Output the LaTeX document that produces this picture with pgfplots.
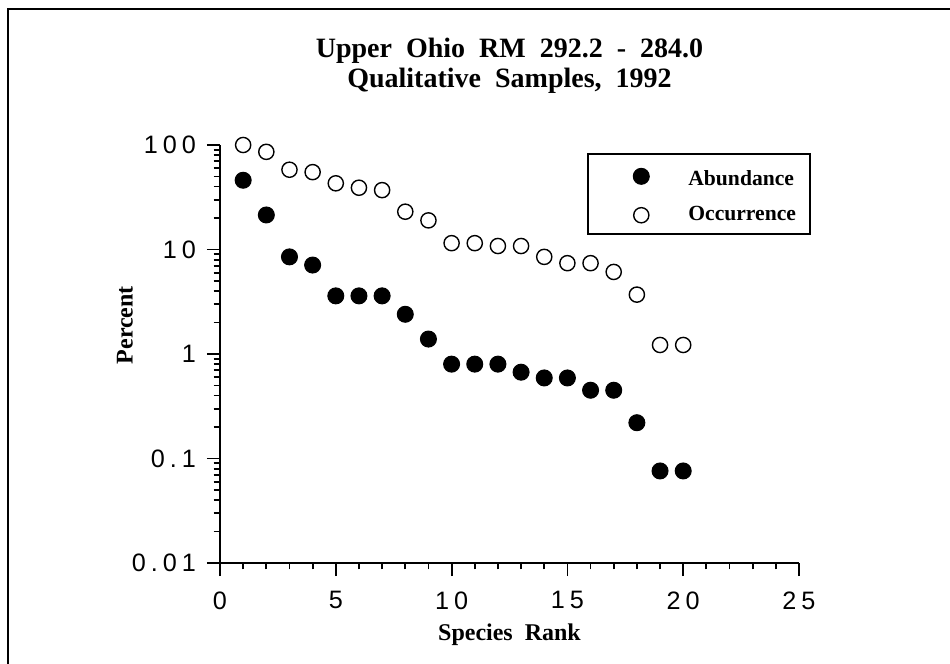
\documentclass[border=0pt]{standalone}
\usepackage{fontspec}
\setmainfont{Liberation Serif}
\newfontfamily\tickfont[LetterSpace=20]{Liberation Sans}
\usepackage{pgfplots}
\pgfplotsset{compat=1.18}

\begin{document}
\begin{tikzpicture}
\path[use as bounding box] (-110bp,-50.5bp) rectangle (365bp,281.5bp);
\draw[line width=1.1bp] (-106bp,-50.5bp) -- (-106bp,277bp) -- (365bp,277bp);
\begin{axis}[
  at={(0,0)}, anchor=south west,
  scale only axis, width=289.5bp, height=209bp,
  ymode=log,
  xmin=0, xmax=25, ymin=0.01, ymax=100,
  axis x line=bottom, axis y line=left,
  axis line style={-, line width=1.1bp},
  tick align=outside,
  major tick length=6.5bp, minor tick length=3.2bp,
  every tick/.style={black, line width=0.9bp},
  xtick={0,5,10,15,20,25},
  xticklabels={0,5,10,15,20,25},
  minor x tick num=4,
  ytick={0.01,0.1,1,10,100},
  yticklabels={0.01,0.1,1,10,100},
  xticklabel style={font=\tickfont\fontsize{12.6bp}{14bp}\selectfont, yshift=-4.3bp},
  yticklabel style={font=\tickfont\fontsize{12.6bp}{14bp}\selectfont, xshift=-2bp},
  title={Upper\ \ Ohio\ \ RM\ \ 292.2\ \ -\ \ 284.0\\[0bp]Qualitative\ \ Samples,\ \ 1992},
  title style={font=\bfseries\fontsize{14bp}{15bp}\selectfont, align=center,
    at={(axis description cs:0.5,1)}, anchor=base, yshift=23bp},
  xlabel={Species\ \ Rank},
  xlabel style={font=\bfseries\fontsize{12bp}{14bp}\selectfont,
    at={(axis description cs:0.5,0)}, anchor=base, yshift=-38.5bp},
  ylabel={Percent},
  ylabel style={font=\bfseries\fontsize{12bp}{14bp}\selectfont,
    at={(axis description cs:0,0.569)}, anchor=center, yshift=47.5bp},
  legend style={at={(axis description cs:0.634,0.981)}, anchor=north west,
    draw=black, line width=1.1bp, inner xsep=5bp, inner ysep=3bp,
    font=\bfseries\fontsize{10.8bp}{12bp}\selectfont,
    column sep=0bp, row sep=5bp},
  legend cell align=left,
  legend image code/.code={\path (0bp,0bp) (42bp,0bp);\draw[mark repeat=2,mark phase=2,#1] plot coordinates {(0bp,0bp) (21bp,0bp) (42bp,0bp)};},
  clip=false,
]
\addplot[only marks, mark=*, mark size=4bp, black, mark options={fill=black, line width=0.5bp}]
coordinates {
(1,46) (2,21.4) (3,8.5) (4,7.1) (5,3.6) (6,3.6) (7,3.6) (8,2.4) (9,1.39)
(10,0.80) (11,0.80) (12,0.80) (13,0.67) (14,0.59) (15,0.59) (16,0.45) (17,0.45)
(18,0.22) (19,0.076) (20,0.076)
};
\addlegendentry{\rule{0pt}{10.8bp}Abundance}
\addplot[only marks, mark=o, mark size=3.8bp, black, mark options={line width=0.7bp}]
coordinates {
(1,100) (2,86) (3,58) (4,55) (5,43) (6,39) (7,37) (8,23) (9,19)
(10,11.5) (11,11.5) (12,10.8) (13,10.8) (14,8.5) (15,7.4) (16,7.4) (17,6.1)
(18,3.7) (19,1.22) (20,1.22)
};
\addlegendentry{Occurrence}
\end{axis}
\end{tikzpicture}
\end{document}
